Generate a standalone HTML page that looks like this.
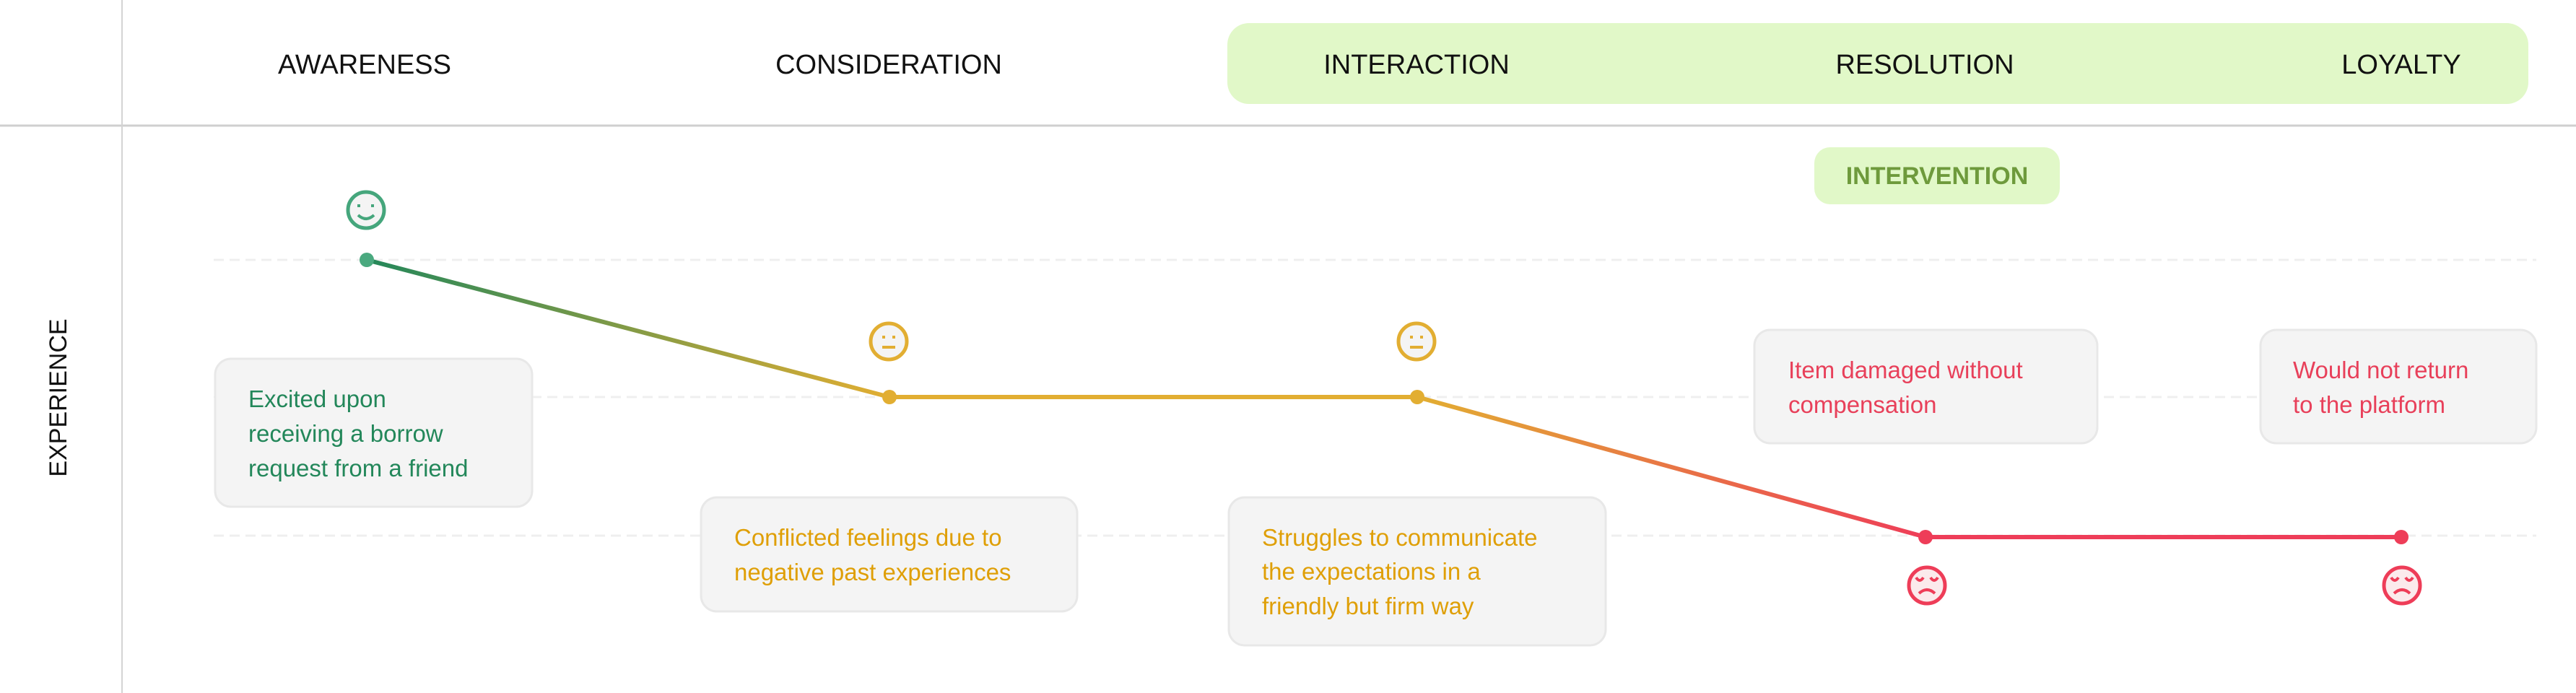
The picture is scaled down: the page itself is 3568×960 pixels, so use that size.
<!DOCTYPE html>
<html><head><meta charset="utf-8"><style>
html,body{margin:0;padding:0;background:#fff;width:3568px;height:960px;overflow:hidden}
svg{display:block}
text{font-family:"Liberation Sans",sans-serif}
</style></head><body>
<svg width="3568" height="960" viewBox="0 0 3568 960" xmlns="http://www.w3.org/2000/svg">
<defs>
<linearGradient id="g1" x1="508" y1="0" x2="1232" y2="0" gradientUnits="userSpaceOnUse">
<stop offset="0" stop-color="#24875a"/><stop offset="1" stop-color="#e2ae32"/></linearGradient>
<linearGradient id="g2" x1="1963" y1="0" x2="2667" y2="0" gradientUnits="userSpaceOnUse">
<stop offset="0" stop-color="#e2ae32"/><stop offset="1" stop-color="#ee3d58"/></linearGradient>
</defs>
<!-- header band -->
<rect x="1700" y="32" width="1802" height="112" rx="30" fill="#e1f8c8"/>
<line x1="0" y1="174" x2="3568" y2="174" stroke="#cfcfcf" stroke-width="3"/>
<line x1="169" y1="0" x2="169" y2="960" stroke="#d4d4d4" stroke-width="2"/>
<g font-size="38" fill="#111" text-anchor="middle">
<text x="505" y="102">AWARENESS</text>
<text x="1231" y="102">CONSIDERATION</text>
<text x="1962" y="102">INTERACTION</text>
<text x="2666" y="102">RESOLUTION</text>
<text x="3326" y="102">LOYALTY</text>
</g>
<text transform="translate(92,551) rotate(-90)" font-size="34" fill="#111" text-anchor="middle">EXPERIENCE</text>
<!-- intervention -->
<rect x="2513" y="204" width="340" height="79" rx="22" fill="#e1f8c8"/>
<text x="2683" y="255" font-size="34" font-weight="bold" fill="#6e9a3c" text-anchor="middle">INTERVENTION</text>
<!-- dashed lines -->
<g stroke="#efefef" stroke-width="3" stroke-dasharray="14,8">
<line x1="296" y1="360" x2="3513" y2="360"/>
<line x1="296" y1="550" x2="3513" y2="550"/>
<line x1="296" y1="742" x2="3513" y2="742"/>
</g>
<!-- boxes -->
<g fill="#f4f4f4" stroke="#e8e8e8" stroke-width="3">
<rect x="298" y="497" width="439" height="205" rx="22"/>
<rect x="971" y="689" width="521" height="158" rx="22"/>
<rect x="1702" y="689" width="522" height="205" rx="22"/>
<rect x="2430" y="457" width="475" height="157" rx="22"/>
<rect x="3131" y="457" width="382" height="157" rx="22"/>
</g>
<g font-size="33">
<g fill="#23875a"><text x="344" y="564">Excited upon</text><text x="344" y="612">receiving a borrow</text><text x="344" y="660">request from a friend</text></g>
<g fill="#df9f06"><text x="1017" y="756">Conflicted feelings due to</text><text x="1017" y="804">negative past experiences</text>
<text x="1748" y="756">Struggles to communicate</text><text x="1748" y="803">the expectations in a</text><text x="1748" y="851">friendly but firm way</text></g>
<g fill="#e8405a"><text x="2477" y="524">Item damaged without</text><text x="2477" y="572">compensation</text>
<text x="3176" y="524">Would not return</text><text x="3176" y="572">to the platform</text></g>
</g>
<!-- curve -->
<line x1="508" y1="360" x2="1232" y2="550" stroke="url(#g1)" stroke-width="6"/>
<line x1="1232" y1="550" x2="1963" y2="550" stroke="#e2ae32" stroke-width="6"/>
<line x1="1963" y1="550" x2="2667" y2="744" stroke="url(#g2)" stroke-width="6"/>
<line x1="2667" y1="744" x2="3326" y2="744" stroke="#ee3d58" stroke-width="6"/>
<circle cx="508" cy="360" r="10" fill="#4aa97f"/>
<circle cx="1232" cy="550" r="10" fill="#e2ae32"/>
<circle cx="1963" cy="550" r="10" fill="#e2ae32"/>
<circle cx="2667" cy="744" r="10" fill="#ee3d58"/>
<circle cx="3326" cy="744" r="10" fill="#ee3d58"/>
<!-- faces -->
<g>
<circle cx="507" cy="291" r="25" fill="#f4f4f4" stroke="#45a67c" stroke-width="5"/>
<rect x="495" y="283" width="4" height="4" fill="#45a67c"/><rect x="514" y="283" width="4" height="4" fill="#45a67c"/>
<path d="M496 298 Q507 308 518 298" fill="none" stroke="#45a67c" stroke-width="4"/>
</g>
<g fill="#e2ae32">
<circle cx="1231" cy="473" r="25" fill="#f4f4f4" stroke="#e2ae32" stroke-width="5"/>
<rect x="1222" y="465" width="4" height="4"/><rect x="1236" y="465" width="4" height="4"/><rect x="1222" y="479" width="18" height="4"/>
<circle cx="1962" cy="473" r="25" fill="#f4f4f4" stroke="#e2ae32" stroke-width="5"/>
<rect x="1953" y="465" width="4" height="4"/><rect x="1967" y="465" width="4" height="4"/><rect x="1953" y="479" width="18" height="4"/>
</g>
<g fill="none" stroke="#ee3d58" stroke-width="4">
<circle cx="2669" cy="811" r="25" fill="#fbeaec" stroke-width="5"/>
<path d="M2654 800 Q2659 808 2664 800 M2674 800 Q2679 808 2684 800 M2658 822 Q2669 812 2680 822"/>
<circle cx="3327" cy="811" r="25" fill="#fbeaec" stroke-width="5"/>
<path d="M3312 800 Q3317 808 3322 800 M3332 800 Q3337 808 3342 800 M3316 822 Q3327 812 3338 822"/>
</g>
</svg>
</body></html>
